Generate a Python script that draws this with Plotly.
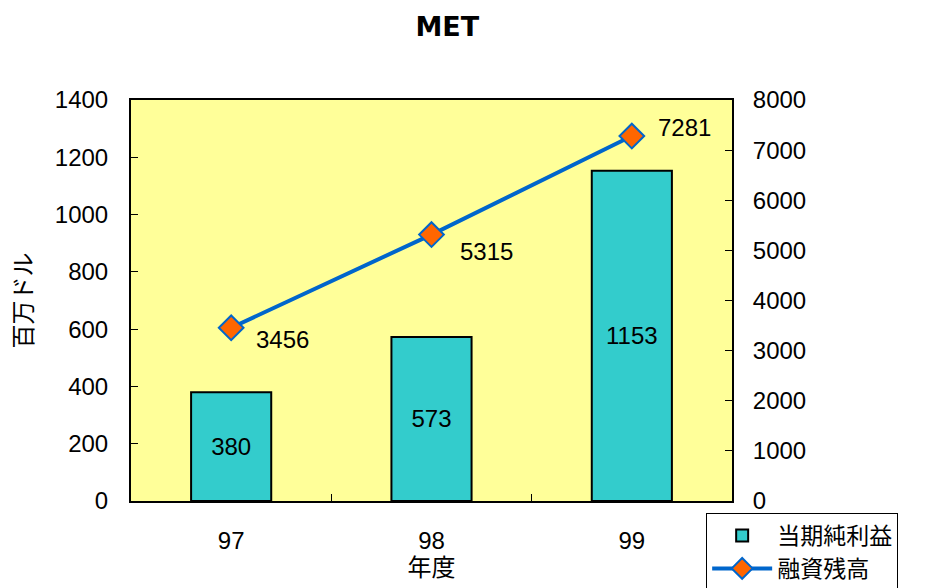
import plotly.graph_objects as go

years = ["97", "98", "99"]
net_income = [380, 573, 1153]
financing_balance = [3456, 5315, 7281]

FONT = "Liberation Sans, Noto Sans CJK JP"

fig = go.Figure()
fig.add_trace(go.Bar(
    x=years, y=net_income, name="当期純利益",
    marker=dict(color="#33CCCC", line=dict(color="black", width=2)),
    width=0.4,
    text=[str(v) for v in net_income], textposition="inside",
    insidetextanchor="middle",
    textfont=dict(size=24, color="black", family=FONT),
    yaxis="y",
))
fig.add_trace(go.Scatter(
    x=years, y=financing_balance, name="融資残高",
    mode="lines+markers",
    line=dict(color="#0066CC", width=4),
    marker=dict(symbol="diamond", size=19, color="#FF6600", line=dict(color="#0066CC", width=2)),
    yaxis="y2",
))

# data labels for the line, offset to the right of each marker
# (category axis: annotation x given as the category index)
label_shift = [(23, -12), (26, -17), (24, 9)]
for idx, (val, (dx, dy)) in enumerate(zip(financing_balance, label_shift)):
    fig.add_annotation(x=idx, y=val, xref="x", yref="y2", text=str(val),
                       showarrow=False, xanchor="left", yanchor="middle",
                       xshift=dx, yshift=dy,
                       font=dict(size=24, color="black", family=FONT))

fig.update_layout(
    width=928, height=588,
    margin=dict(l=131, r=196, t=100, b=87, autoexpand=False),
    paper_bgcolor="white",
    plot_bgcolor="#FFFF99",
    font=dict(family=FONT, size=24, color="black"),
    title=dict(text="MET", x=0.482, xref="container", xanchor="center",
               y=1 - 27 / 588, yref="container", yanchor="middle",
               font=dict(size=27, family="DejaVu Sans", weight="bold")),
    xaxis=dict(type="category", categoryarray=years, categoryorder="array",
               showline=True, linecolor="black", linewidth=2,
               mirror=True, ticks="inside", tickson="boundaries", ticklen=7,
               tickcolor="black", showgrid=False, automargin=False,
               ticklabelstandoff=17,
               title=dict(text="年度", standoff=5, font=dict(size=24)),
               tickfont=dict(size=24)),
    yaxis=dict(range=[0, 1400], dtick=200, showline=True, linecolor="black", linewidth=2,
               ticks="inside", ticklen=7, tickcolor="black", showgrid=False, zeroline=False,
               automargin=False, ticklabelstandoff=16,
               title=dict(text="百万ドル", font=dict(size=24)),
               tickfont=dict(size=24)),
    yaxis2=dict(range=[0, 8000], dtick=1000, overlaying="y", side="right",
                showline=True, linecolor="black", linewidth=2,
                ticks="inside", ticklen=7, tickcolor="black", showgrid=False, zeroline=False,
                automargin=False, ticklabelstandoff=14,
                tickfont=dict(size=24)),
    legend=dict(x=0.957, y=-0.03, xanchor="left", yanchor="top",
                bgcolor="white", bordercolor="black", borderwidth=1,
                font=dict(size=23), tracegroupgap=0, itemwidth=60),
    showlegend=True,
)

fig.write_html("out.html")
